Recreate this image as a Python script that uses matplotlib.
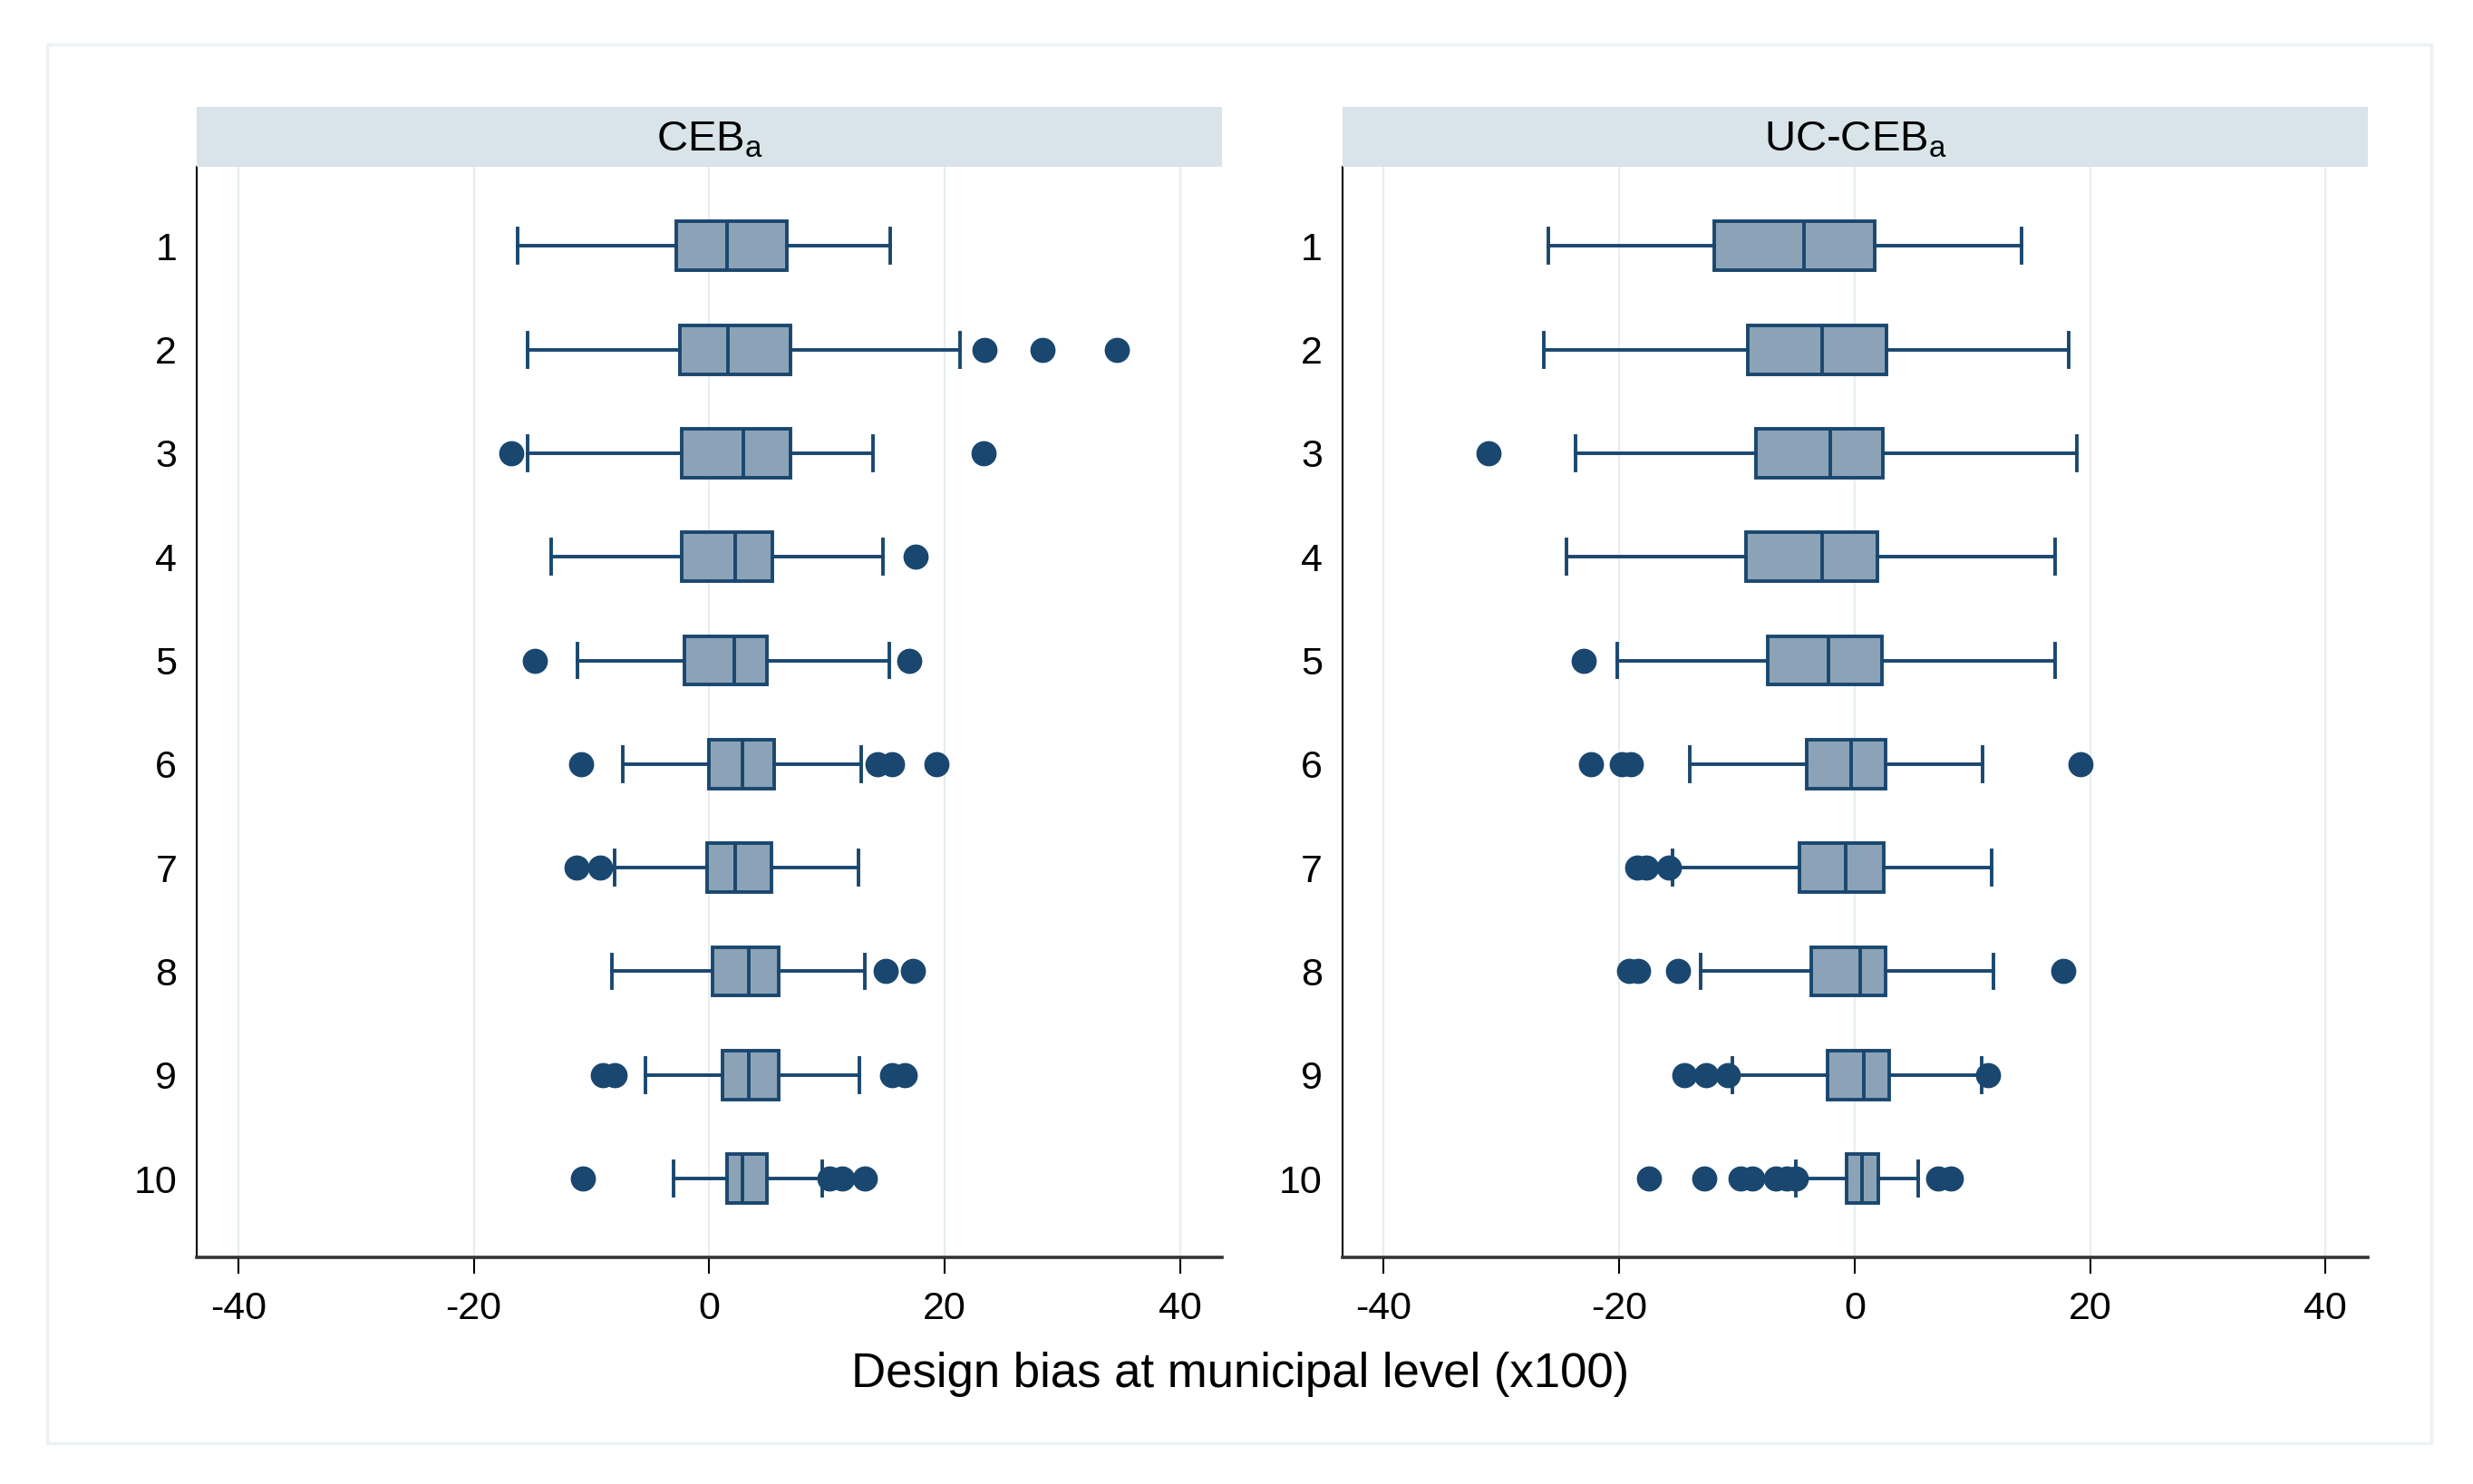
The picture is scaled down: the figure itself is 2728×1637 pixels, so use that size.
import matplotlib
matplotlib.use("Agg")
import matplotlib.pyplot as plt
from matplotlib.patches import Rectangle

plt.rcParams['font.family'] = ['Liberation Sans', 'DejaVu Sans']
plt.rcParams['mathtext.fontset'] = 'custom'
plt.rcParams['mathtext.rm'] = 'Liberation Sans'

# Row labels (design / replicate index)
rows = [1, 2, 3, 4, 5, 6, 7, 8, 9, 10]
panel_titles = [r'CEB$_{\mathrm{a}}$', r'UC-CEB$_{\mathrm{a}}$']
x_ticks = [-40, -20, 0, 20, 40]
x_label = 'Design bias at municipal level (x100)'

# CEB_a box statistics
ceb_whislo = [-16.3, -15.4, -15.4, -13.4, -11.2, -7.3, -8.0, -8.3, -5.4, -3.0]
ceb_q1 = [-2.8, -2.5, -2.3, -2.3, -2.1, 0.0, -0.2, 0.3, 1.1, 1.5]
ceb_med = [1.5, 1.6, 2.9, 2.2, 2.1, 2.8, 2.2, 3.4, 3.4, 2.8]
ceb_q3 = [6.6, 6.9, 6.9, 5.4, 4.9, 5.5, 5.3, 5.9, 5.9, 4.9]
ceb_whishi = [15.4, 21.3, 13.9, 14.8, 15.3, 12.9, 12.7, 13.2, 12.8, 9.6]
ceb_fliers = [
    [],
    [23.4, 28.3, 34.6],
    [-16.8, 23.3],
    [17.5],
    [-14.8, 17.0],
    [-10.9, 14.3, 15.5, 19.3],
    [-11.3, -9.3],
    [15.0, 17.3],
    [-9.0, -8.0, 15.5, 16.6],
    [-10.7, 10.2, 11.3, 13.2],
]

# UC-CEB_a box statistics
uc_whislo = [-26.0, -26.4, -23.7, -24.5, -20.2, -14.0, -15.5, -13.1, -10.4, -5.0]
uc_q1 = [-11.9, -9.1, -8.4, -9.2, -7.4, -4.1, -4.7, -3.7, -2.3, -0.7]
uc_med = [-4.3, -2.8, -2.1, -2.8, -2.2, -0.3, -0.8, 0.5, 0.8, 0.6]
uc_q3 = [1.7, 2.7, 2.4, 1.9, 2.3, 2.6, 2.5, 2.6, 2.9, 2.0]
uc_whishi = [14.2, 18.2, 18.9, 17.0, 17.0, 10.9, 11.6, 11.8, 10.8, 5.4]
uc_fliers = [
    [],
    [],
    [-31.1],
    [],
    [-23.0],
    [-22.4, -19.8, -19.0, 19.2],
    [-18.5, -17.7, -15.8],
    [-19.2, -18.4, -15.0, 17.7],
    [-14.5, -12.6, -10.8, 11.3],
    [-17.5, -12.8, -9.7, -8.7, -6.7, -5.8, -5.0, 7.1, 8.2],
]

navy = '#1a476f'
box_fill = '#8ca3b7'
strip_col = '#d8e4e9'
grid_col = '#e6eef1'


def make_stats(lo, q1, med, q3, hi, fl):
    out = []
    for i in range(len(lo)):
        out.append({'whislo': lo[i], 'q1': q1[i], 'med': med[i], 'q3': q3[i],
                    'whishi': hi[i], 'fliers': fl[i]})
    return out


panels = [
    make_stats(ceb_whislo, ceb_q1, ceb_med, ceb_q3, ceb_whishi, ceb_fliers),
    make_stats(uc_whislo, uc_q1, uc_med, uc_q3, uc_whishi, uc_fliers),
]

fig = plt.figure(figsize=(27.28, 16.37), dpi=100)

# light outer frame
fig.patches.append(Rectangle((0.019, 0.0275), 0.964, 0.9425, transform=fig.transFigure,
                             fill=False, edgecolor='#edf2f4', linewidth=2.5))

lefts = [0.0797, 0.5429]
width = 0.4146
bottom = 0.1528
height = 0.7345

for k in range(2):
    ax = fig.add_axes([lefts[k], bottom, width, height])
    ax.bxp(panels[k], positions=rows, orientation='horizontal', widths=0.47,
           capwidths=0.33, patch_artist=True, showfliers=True,
           boxprops=dict(facecolor=box_fill, edgecolor=navy, linewidth=2.8),
           medianprops=dict(color=navy, linewidth=2.8),
           whiskerprops=dict(color=navy, linewidth=2.8),
           capprops=dict(color=navy, linewidth=2.8),
           flierprops=dict(marker='o', markerfacecolor=navy, markeredgecolor=navy,
                           markersize=19, linestyle='none'))
    ax.set_xlim(-43.5, 43.6)
    ax.set_ylim(10.76, 0.24)
    ax.set_xticks(x_ticks)
    ax.set_xticklabels([str(t) for t in x_ticks])
    ax.set_yticks(rows)
    ax.set_yticklabels([str(r) for r in rows])
    ax.grid(axis='x', color=grid_col, linewidth=1.6, zorder=0)
    ax.set_axisbelow(True)
    ax.tick_params(axis='x', length=13, width=1.5, pad=14, labelsize=31, colors='black')
    ax.tick_params(axis='y', length=0, pad=16, labelsize=31)
    ax.spines['top'].set_visible(False)
    ax.spines['right'].set_visible(False)
    ax.spines['left'].set_linewidth(1.5)
    ax.spines['bottom'].set_linewidth(2.6)
    ax.spines['bottom'].set_color('#333333')

    strip = fig.add_axes([lefts[k], 0.8873, width, 0.0404])
    strip.set_facecolor(strip_col)
    strip.set_xticks([])
    strip.set_yticks([])
    for s in strip.spines.values():
        s.set_visible(False)
    strip.text(0.5, 0.46, panel_titles[k], ha='center', va='center', fontsize=34,
               transform=strip.transAxes)

fig.text(0.5014, 0.074, x_label, ha='center', va='center', fontsize=38)

fig.savefig('out.png', dpi=100)
